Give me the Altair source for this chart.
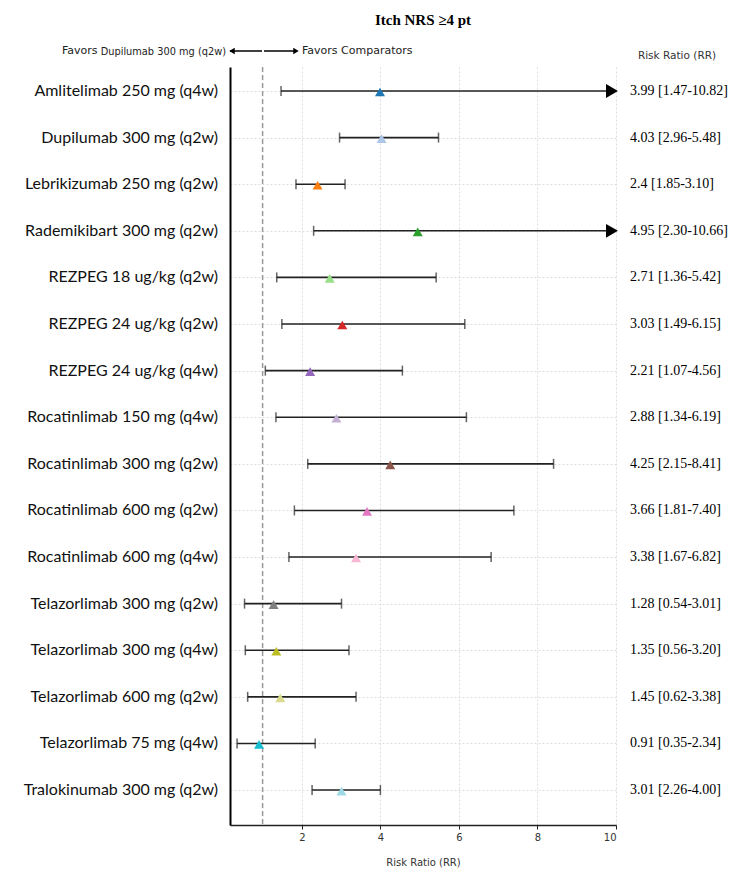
import altair as alt
import pandas as pd

# ---------------- data ----------------
names = [
    "Amlitelimab 250 mg (q4w)", "Dupilumab  300 mg (q2w)", "Lebrikizumab 250 mg (q2w)",
    "Rademikibart 300 mg (q2w)", "REZPEG 18 ug/kg (q2w)", "REZPEG 24 ug/kg (q2w)",
    "REZPEG 24 ug/kg (q4w)", "Rocatinlimab 150 mg (q4w)", "Rocatinlimab 300 mg (q2w)",
    "Rocatinlimab 600 mg (q2w)", "Rocatinlimab 600 mg (q4w)", "Telazorlimab 300 mg (q2w)",
    "Telazorlimab 300 mg (q4w)", "Telazorlimab 600 mg (q2w)", "Telazorlimab 75 mg (q4w)",
    "Tralokinumab 300 mg (q2w)",
]
rr = [3.99, 4.03, 2.4, 4.95, 2.71, 3.03, 2.21, 2.88, 4.25, 3.66, 3.38, 1.28, 1.35, 1.45, 0.91, 3.01]
lo = [1.47, 2.96, 1.85, 2.30, 1.36, 1.49, 1.07, 1.34, 2.15, 1.81, 1.67, 0.54, 0.56, 0.62, 0.35, 2.26]
hi = [10.82, 5.48, 3.10, 10.66, 5.42, 6.15, 4.56, 6.19, 8.41, 7.40, 6.82, 3.01, 3.20, 3.38, 2.34, 4.00]
rr_text = [
    "3.99 [1.47-10.82]", "4.03 [2.96-5.48]", "2.4 [1.85-3.10]", "4.95 [2.30-10.66]",
    "2.71 [1.36-5.42]", "3.03 [1.49-6.15]", "2.21 [1.07-4.56]", "2.88 [1.34-6.19]",
    "4.25 [2.15-8.41]", "3.66 [1.81-7.40]", "3.38 [1.67-6.82]", "1.28 [0.54-3.01]",
    "1.35 [0.56-3.20]", "1.45 [0.62-3.38]", "0.91 [0.35-2.34]", "3.01 [2.26-4.00]",
]
colors = [
    "#1f77b4", "#aec7e8", "#ff7f0e", "#2ca02c", "#98df8a", "#d62728", "#9467bd", "#c5b0d5",
    "#8c564b", "#e377c2", "#f7b6d2", "#7f7f7f", "#bcbd22", "#dbdb8d", "#17becf", "#9edae5",
]
x_ticks = [2, 4, 6, 8, 10]
x_max = 10
x_min = 0.17
null_value = 1

title_text = "Itch NRS \u22654 pt"
favors_left_a = "Favors"
favors_left_b = "Dupilumab 300 mg (q2w)"
favors_right = "Favors Comparators"
header_text = "Risk Ratio (RR)"
axis_title = "Risk Ratio (RR)"

df = pd.DataFrame({
    "name": names,
    "idx": list(range(len(names))),
    "rr": rr,
    "lo": lo,
    "hi": hi,
    "hi_plot": [min(h, x_max) for h in hi],
    "arrow": [h > x_max for h in hi],
    "txt": rr_text,
})

W, H = 386, 758
PAD_L, PAD_T = 230, 67

xscale = alt.Scale(domain=[x_min, x_max], zero=False, nice=False)
yscale = alt.Scale(domain=[-0.515, len(names) - 1 + 0.75], reverse=True, zero=False, nice=False)

base = alt.Chart(df)

x_axis = alt.Axis(
    values=x_ticks, grid=True, gridColor="#dddddd", gridDash=[2, 2], gridWidth=1,
    domainColor="#222222", domainWidth=1.5, tickColor="#222222", tickSize=4,
    labelFont="DejaVu Sans", labelFontSize=10, labelColor="#333333", labelPadding=3,
    title=axis_title, titleFont="DejaVu Sans", titleFontSize=10, titleFontWeight="normal",
    titleColor="#333333", titlePadding=15,
)
y_axis = alt.Axis(
    values=list(range(len(names))), labels=False, ticks=False, title=None,
    grid=True, gridColor="#dddddd", gridDash=[2, 2], gridWidth=1,
    domainColor="#000000", domainWidth=2,
)

axes_layer = base.mark_point(opacity=0).encode(
    x=alt.X("rr:Q", scale=xscale, axis=x_axis),
    y=alt.Y("idx:Q", scale=yscale, axis=y_axis),
)

null_line = alt.Chart(alt.Data(values=[{"v": null_value}])).mark_rule(
    color="#999999", strokeDash=[5, 3], strokeWidth=1.5
).encode(x=alt.X("v:Q", scale=xscale))

ci_line = base.mark_rule(color="#222222", strokeWidth=1.6).encode(
    x=alt.X("lo:Q", scale=xscale), x2="hi_plot:Q", y=alt.Y("idx:Q", scale=yscale)
)

cap_lo = base.mark_tick(orient="vertical", color="#222222", size=10, thickness=1.5).encode(
    x=alt.X("lo:Q", scale=xscale), y=alt.Y("idx:Q", scale=yscale)
)
cap_hi = base.transform_filter("!datum.arrow").mark_tick(
    orient="vertical", color="#222222", size=10, thickness=1.5
).encode(x=alt.X("hi:Q", scale=xscale), y=alt.Y("idx:Q", scale=yscale))

arrow_head = base.transform_filter("datum.arrow").mark_point(
    shape="triangle-right", filled=True, color="#000000", opacity=1, size=190, xOffset=-4
).encode(x=alt.X("hi_plot:Q", scale=xscale), y=alt.Y("idx:Q", scale=yscale))

markers = base.mark_point(shape="triangle-up", filled=True, opacity=1, size=100, yOffset=1).encode(
    x=alt.X("rr:Q", scale=xscale),
    y=alt.Y("idx:Q", scale=yscale),
    color=alt.Color("name:N", scale=alt.Scale(domain=names, range=colors), legend=None),
)

left_labels = base.mark_text(
    align="right", baseline="middle", font="Lato", fontSize=16, color="#111111"
).encode(x=alt.value(-12), y=alt.Y("idx:Q", scale=yscale), text="name:N")

right_labels = base.mark_text(
    align="left", baseline="middle", font="Liberation Serif", fontSize=14, color="#000000"
).encode(x=alt.value(400), y=alt.Y("idx:Q", scale=yscale), text="txt:N")

one = alt.Data(values=[{}])

title_mark = alt.Chart(one).mark_text(
    text=title_text, font="Liberation Serif", fontSize=15, fontWeight="bold",
    align="center", baseline="middle", color="#000000"
).encode(x=alt.value(W / 2), y=alt.value(-47))

fav_a = alt.Chart(one).mark_text(
    text=favors_left_a, font="DejaVu Sans", fontSize=11, align="left", baseline="middle", color="#222222"
).encode(x=alt.value(-168), y=alt.value(-16))
fav_b = alt.Chart(one).mark_text(
    text=favors_left_b, font="DejaVu Sans", fontSize=9.8, align="right", baseline="middle", color="#222222"
).encode(x=alt.value(-4), y=alt.value(-15))
fav_c = alt.Chart(one).mark_text(
    text=favors_right, font="DejaVu Sans", fontSize=11, align="left", baseline="middle", color="#222222"
).encode(x=alt.value(72), y=alt.value(-16))

shaft_l = alt.Chart(one).mark_rule(color="#000000", strokeWidth=1.5).encode(
    x=alt.value(0), x2=alt.value(32), y=alt.value(-16)
)
shaft_r = alt.Chart(one).mark_rule(color="#000000", strokeWidth=1.5).encode(
    x=alt.value(34), x2=alt.value(64), y=alt.value(-16)
)
head_l = alt.Chart(one).mark_point(
    shape="triangle-left", filled=True, color="#000000", opacity=1, size=40
).encode(x=alt.value(2), y=alt.value(-16))
head_r = alt.Chart(one).mark_point(
    shape="triangle-right", filled=True, color="#000000", opacity=1, size=40
).encode(x=alt.value(66), y=alt.value(-16))

header = alt.Chart(one).mark_text(
    text=header_text, font="DejaVu Sans", fontSize=10.5, align="center", baseline="middle", color="#333333"
).encode(x=alt.value(447), y=alt.value(-11))

chart = alt.layer(
    axes_layer, null_line, ci_line, cap_lo, cap_hi, arrow_head, markers,
    left_labels, right_labels, title_mark, fav_a, fav_b, fav_c,
    shaft_l, shaft_r, head_l, head_r, header,
).properties(
    width=W, height=H,
    autosize=alt.AutoSizeParams(type="none"),
    padding={"left": PAD_L, "top": PAD_T, "right": 750 - PAD_L - W, "bottom": 875 - PAD_T - H},
    background="white",
).configure_view(stroke=None)

chart.save("out.html", embed_options={"renderer": "svg", "actions": False})
